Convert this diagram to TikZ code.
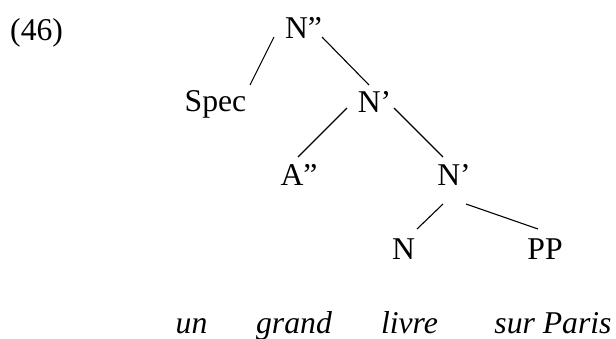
\documentclass[tikz,border=0pt]{standalone}
\usepackage{fontspec}
\setmainfont{Liberation Serif}
\begin{document}
\begin{tikzpicture}[x=1pt,y=-1pt,
  lbl/.style={inner sep=0pt,anchor=base,font=\fontsize{31.7pt}{38pt}\selectfont},
  word/.style={lbl,font=\fontsize{31.7pt}{38pt}\selectfont\itshape},
  branch/.style={line width=1.1pt}]
\useasboundingbox (0,0) rectangle (616,338);
\node[lbl,anchor=base west] (ex) at (10,40) {(46)};
\node[lbl] (top) at (303.5,38) {N”};
\node[lbl] (spec) at (215.5,111) {Spec};
\node[lbl] (n1) at (374.5,112) {N’};
\node[lbl] (a) at (299,185) {A”};
\node[lbl] (n2) at (454,185) {N’};
\node[lbl] (n) at (403.5,259) {N};
\node[lbl] (pp) at (545,259) {PP};
\node[word] (w1) at (191.5,333) {un};
\node[word] (w2) at (294,333) {grand};
\node[word] (w3) at (409.5,333) {livre};
\node[word] (w4) at (553,333) {sur Paris};
\draw[branch] ([shift={(-29.5,-1)}]top.base) -- ([shift={(34.5,-26)}]spec.base);
\draw[branch] ([shift={(18.5,-1)}]top.base) -- ([shift={(-5.5,-27)}]n1.base);
\draw[branch] ([shift={(-27.5,-4)}]n1.base) -- ([shift={(-1,-28)}]a.base);
\draw[branch] ([shift={(19.5,-4)}]n1.base) -- ([shift={(-11,-28)}]n2.base);
\draw[branch] ([shift={(-11,19)}]n2.base) -- ([shift={(13.5,-30)}]n.base);
\draw[branch] ([shift={(12,19)}]n2.base) -- ([shift={(-7,-30)}]pp.base);
\end{tikzpicture}
\end{document}
